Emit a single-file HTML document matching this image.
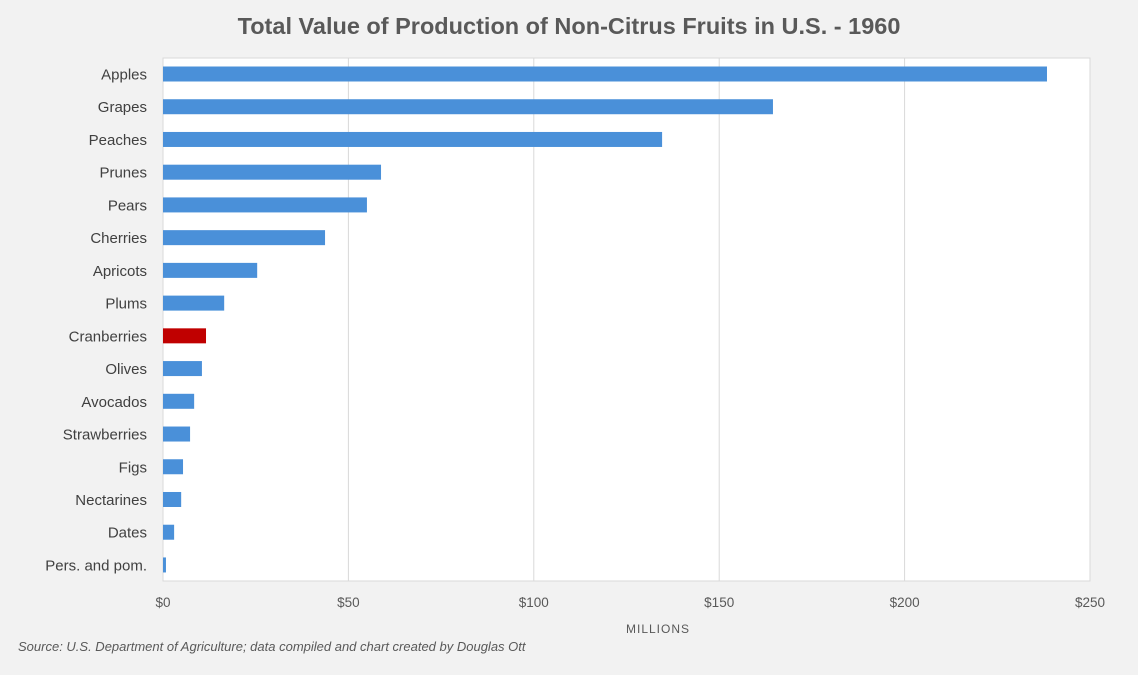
<!DOCTYPE html>
<html><head><meta charset="utf-8"><style>
body{margin:0;background:#f2f2f2;font-family:"Liberation Sans",sans-serif;}
</style></head><body>
<svg width="1138" height="670" xmlns="http://www.w3.org/2000/svg">
<rect width="1138" height="670" fill="#f2f2f2"/>
<text x="569" y="34" text-anchor="middle" font-size="23.5" font-weight="bold" fill="#595959">Total Value of Production of Non-Citrus Fruits in U.S. - 1960</text>
<rect x="163" y="58" width="927" height="523" fill="#fff" stroke="#d9d9d9"/>
<g id="grid"></g><g id="bars"></g><g id="labels"></g>
<text x="658" y="633" text-anchor="middle" font-size="12" letter-spacing="1" fill="#595959">MILLIONS</text>
<text x="18" y="651" font-size="13" font-style="italic" fill="#595959">Source: U.S. Department of Agriculture; data compiled and chart created by Douglas Ott</text>
</svg>
<script>
const categories=["Apples","Grapes","Peaches","Prunes","Pears","Cherries","Apricots","Plums","Cranberries","Olives","Avocados","Strawberries","Figs","Nectarines","Dates","Pers. and pom."];
const values=[238.4,164.5,134.6,58.8,55,43.7,25.4,16.5,11.6,10.5,8.4,7.3,5.4,4.9,3.0,0.8];
const ticks=[0,50,100,150,200,250];
const tickLabels=["$0","$50","$100","$150","$200","$250"];
const NS="http://www.w3.org/2000/svg";
const x=v=>163+v*927/250;
const y=i=>74+i*32.73;
function mk(t,a,p,txt){const e=document.createElementNS(NS,t);for(const k in a)e.setAttribute(k,a[k]);if(txt!==undefined)e.textContent=txt;document.getElementById(p).appendChild(e);return e;}
ticks.forEach((t,i)=>{
 if(i>0){const l=mk('line',{x1:x(t),x2:x(t),y1:58,y2:581,stroke:'#d9d9d9'},'grid');
 
 }
 const tx=mk('text',{x:x(t),y:607,'text-anchor':'middle','font-size':13.5,fill:'#595959'},'labels',tickLabels[i]);
 
 
});
categories.forEach((c,i)=>{
 const r=mk('rect',{x:x(0),y:y(i)-7.5,width:x(values[i])-x(0),height:15,fill:c==="Cranberries"?'#c00000':'#4a90d9'},'bars');
 
 
 const t=mk('text',{x:147,y:y(i)+5.5,'text-anchor':'end','font-size':15,fill:'#404040'},'labels',c);
 
 
});
</script>
</body></html>
